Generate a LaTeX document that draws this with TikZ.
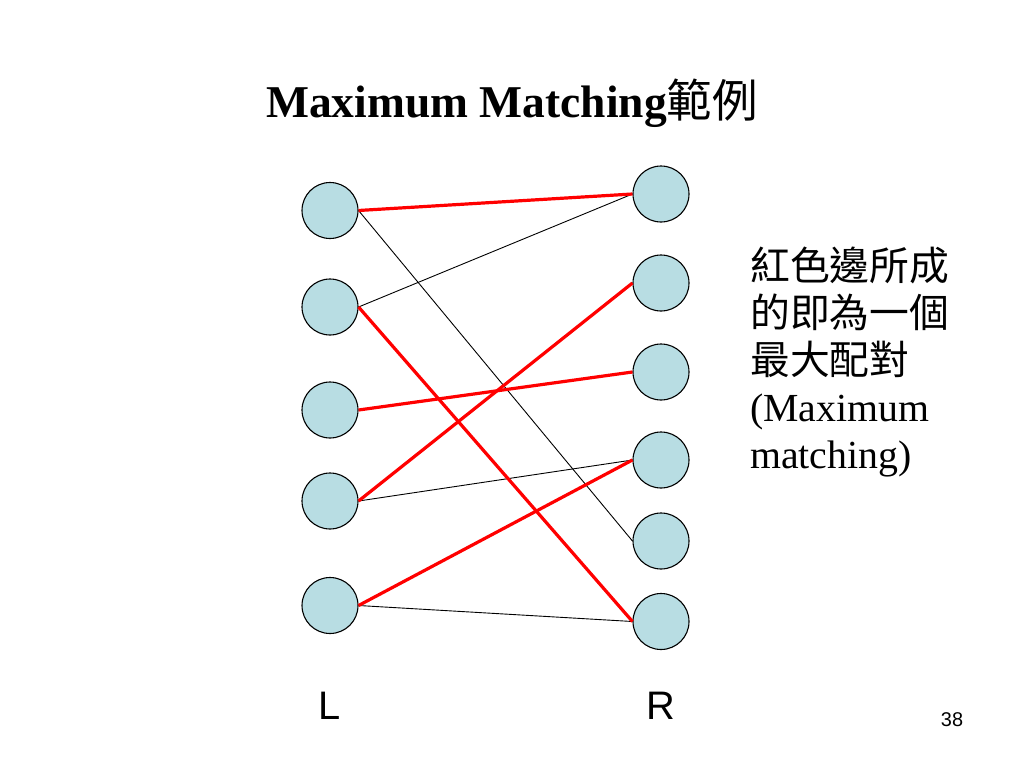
\documentclass[tikz,border=0pt]{standalone}
\usepackage{fontspec}
\setmainfont{Liberation Serif}
\setsansfont{Liberation Sans}
\newfontfamily\cjk{Noto Sans CJK TC}
\definecolor{vfill}{RGB}{184,221,227}
\definecolor{mred}{RGB}{255,0,0}
\begin{document}
\begin{tikzpicture}[x=1pt,y=-1pt,
  vert/.style={circle,draw=black,line width=1.1pt,fill=vfill,minimum size=56pt,inner sep=0pt},
  medge/.style={draw=mred,line width=3.2pt},
  pedge/.style={draw=black,line width=0.9pt}]
\useasboundingbox[fill=white] (0,0) rectangle (1024,768);
\node[anchor=base,font={\fontsize{45.5}{50}\selectfont\bfseries}] (title) at (512,117) {Maximum Matching{\cjk\mdseries 範例}};
\foreach \n/\y in {1/210.5,2/307,3/410,4/501,5/605.5}
  \node[vert] (L\n) at (330,\y) {};
\foreach \n/\y in {1/194,2/283,3/372,4/460,5/541,6/621.5}
  \node[vert] (R\n) at (661,\y) {};
\draw[pedge] (L1.east) -- (R5.west);
\draw[pedge] (L2.east) -- (R1.west);
\draw[pedge] (L4.east) -- (R4.west);
\draw[pedge] (L5.east) -- (R6.west);
\draw[medge] (L1.east) -- (R1.west);
\draw[medge] (L2.east) -- (R6.west);
\draw[medge] (L3.east) -- (R3.west);
\draw[medge] (L4.east) -- (R2.west);
\draw[medge] (L5.east) -- (R4.west);
\node[anchor=base west,align=left,inner sep=0pt,font={\fontsize{39.8}{47}\selectfont}] (desc) at (750,468)
  {{\cjk 紅色邊所成}\\{\cjk 的即為一個}\\{\cjk 最大配對}\\(Maximum\\matching)};
\node[anchor=base,inner sep=0pt,font={\sffamily\fontsize{39.8}{45}\selectfont}] (lbl) at (330,719) {L};
\node[anchor=base,inner sep=0pt,font={\sffamily\fontsize{39.8}{45}\selectfont}] (rbl) at (661,719) {R};
\node[anchor=base,inner sep=0pt,font={\sffamily\fontsize{19.9}{22}\selectfont}] (pg) at (952,726) {38};
\end{tikzpicture}
\end{document}
